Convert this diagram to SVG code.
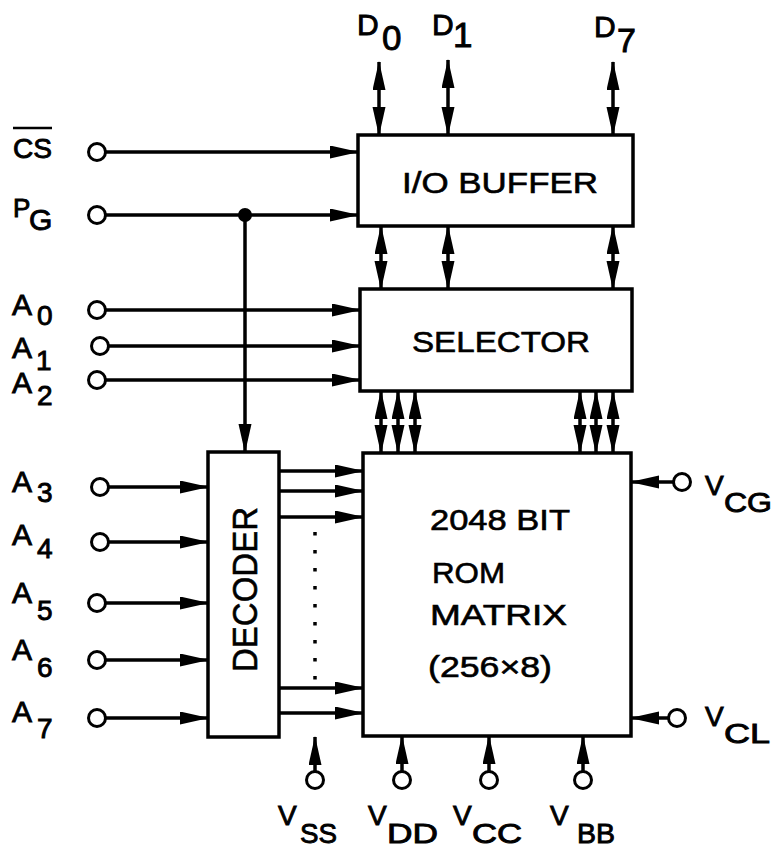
<svg xmlns="http://www.w3.org/2000/svg" width="773" height="848" viewBox="0 0 773 848">
<style>
.box{fill:#fff;stroke:#000;stroke-width:3.5}
.w{stroke:#000;stroke-width:3.5;fill:none}
.pin{fill:#fff;stroke:#000;stroke-width:3}
.t{font-family:"Liberation Sans",Arial,sans-serif;fill:#000;stroke:#000;stroke-width:0.6}
.lab text{font-family:"Liberation Sans",Arial,sans-serif;fill:#000;stroke:#000;stroke-width:0.9}
.lb{font-size:28px}
.bx{font-size:29px}
</style>
<defs>
<marker id="ah" markerUnits="userSpaceOnUse" markerWidth="30" markerHeight="14" refX="28" refY="6.5" orient="auto-start-reverse">
<path d="M0,0 L29,6.5 L0,13 z" fill="#000"/>
</marker>
</defs>
<g id="io-buffer">
<rect class="box" x="358" y="135" width="275" height="91"/>
<text class="t bx" x="402" y="193" textLength="196" lengthAdjust="spacingAndGlyphs">I/O BUFFER</text>
</g>
<g id="selector">
<rect class="box" x="360" y="289" width="272" height="102"/>
<text class="t bx" x="412" y="352" textLength="178" lengthAdjust="spacingAndGlyphs">SELECTOR</text>
</g>
<g id="rom-matrix">
<rect class="box" x="363" y="453" width="268" height="283"/>
<text class="t bx" x="430" y="530" textLength="140" lengthAdjust="spacingAndGlyphs">2048 BIT</text>
<text class="t bx" x="432" y="583" textLength="73" lengthAdjust="spacingAndGlyphs">ROM</text>
<text class="t bx" x="430" y="625" textLength="137" lengthAdjust="spacingAndGlyphs">MATRIX</text>
<text class="t bx" x="428" y="677" textLength="124" lengthAdjust="spacingAndGlyphs">(256×8)</text>
</g>
<g id="decoder">
<rect class="box" x="208" y="452" width="71" height="285"/>
<text class="t" font-size="35" transform="translate(257,672) rotate(-90)" textLength="165" lengthAdjust="spacingAndGlyphs">DECODER</text>
</g>
<g id="connectors">
<line class="w" x1="105" y1="152" x2="358" y2="152" marker-end="url(#ah)"/>
<line class="w" x1="105" y1="215" x2="358" y2="215" marker-end="url(#ah)"/>
<line class="w" x1="245" y1="215" x2="245" y2="452" marker-end="url(#ah)"/>
<circle cx="245" cy="215" r="7" fill="#000"/>
<line class="w" x1="105" y1="310" x2="360" y2="310" marker-end="url(#ah)"/>
<line class="w" x1="108" y1="346" x2="360" y2="346" marker-end="url(#ah)"/>
<line class="w" x1="105" y1="380" x2="360" y2="380" marker-end="url(#ah)"/>
<line class="w" x1="108" y1="487" x2="208" y2="487" marker-end="url(#ah)"/>
<line class="w" x1="108" y1="542" x2="208" y2="542" marker-end="url(#ah)"/>
<line class="w" x1="105" y1="603" x2="208" y2="603" marker-end="url(#ah)"/>
<line class="w" x1="105" y1="660" x2="208" y2="660" marker-end="url(#ah)"/>
<line class="w" x1="105" y1="718" x2="208" y2="718" marker-end="url(#ah)"/>
<line class="w" x1="279" y1="471" x2="363" y2="471" marker-end="url(#ah)"/>
<line class="w" x1="279" y1="491" x2="363" y2="491" marker-end="url(#ah)"/>
<line class="w" x1="279" y1="517" x2="363" y2="517" marker-end="url(#ah)"/>
<line class="w" x1="279" y1="688" x2="363" y2="688" marker-end="url(#ah)"/>
<line class="w" x1="279" y1="713" x2="363" y2="713" marker-end="url(#ah)"/>
<line stroke="#000" stroke-width="3.5" stroke-dasharray="3.5 14.5" x1="315" y1="532" x2="315" y2="680"/>
<line class="w" x1="315" y1="771" x2="315" y2="737" marker-end="url(#ah)"/>
<line class="w" x1="402" y1="771" x2="402" y2="736" marker-end="url(#ah)"/>
<line class="w" x1="489" y1="771" x2="489" y2="736" marker-end="url(#ah)"/>
<line class="w" x1="583" y1="771" x2="583" y2="736" marker-end="url(#ah)"/>
<line class="w" x1="673" y1="482" x2="631" y2="482" marker-end="url(#ah)"/>
<line class="w" x1="668" y1="718" x2="631" y2="718" marker-end="url(#ah)"/>
<line class="w" x1="379" y1="62" x2="379" y2="135" marker-start="url(#ah)" marker-end="url(#ah)"/>
<line class="w" x1="448" y1="60" x2="448" y2="135" marker-start="url(#ah)" marker-end="url(#ah)"/>
<line class="w" x1="613" y1="62" x2="613" y2="135" marker-start="url(#ah)" marker-end="url(#ah)"/>
<line class="w" x1="381" y1="226" x2="381" y2="289" marker-start="url(#ah)" marker-end="url(#ah)"/>
<line class="w" x1="448" y1="226" x2="448" y2="289" marker-start="url(#ah)" marker-end="url(#ah)"/>
<line class="w" x1="613" y1="226" x2="613" y2="289" marker-start="url(#ah)" marker-end="url(#ah)"/>
<line class="w" x1="381" y1="391" x2="381" y2="453" marker-start="url(#ah)" marker-end="url(#ah)"/>
<line class="w" x1="398" y1="391" x2="398" y2="453" marker-start="url(#ah)" marker-end="url(#ah)"/>
<line class="w" x1="415" y1="391" x2="415" y2="453" marker-start="url(#ah)" marker-end="url(#ah)"/>
<line class="w" x1="580" y1="391" x2="580" y2="453" marker-start="url(#ah)" marker-end="url(#ah)"/>
<line class="w" x1="596" y1="391" x2="596" y2="453" marker-start="url(#ah)" marker-end="url(#ah)"/>
<line class="w" x1="613" y1="391" x2="613" y2="453" marker-start="url(#ah)" marker-end="url(#ah)"/>
</g>
<g id="pins">
<circle class="pin" cx="97" cy="152" r="8.5"/>
<circle class="pin" cx="97" cy="215" r="8.5"/>
<circle class="pin" cx="97" cy="310" r="8.5"/>
<circle class="pin" cx="100" cy="346" r="8.5"/>
<circle class="pin" cx="97" cy="380" r="8.5"/>
<circle class="pin" cx="100" cy="487" r="8.5"/>
<circle class="pin" cx="100" cy="542" r="8.5"/>
<circle class="pin" cx="97" cy="603" r="8.5"/>
<circle class="pin" cx="97" cy="660" r="8.5"/>
<circle class="pin" cx="97" cy="718" r="8.5"/>
<circle class="pin" cx="315" cy="780" r="8.5"/>
<circle class="pin" cx="402" cy="780" r="8.5"/>
<circle class="pin" cx="489" cy="780" r="8.5"/>
<circle class="pin" cx="583" cy="780" r="8.5"/>
<circle class="pin" cx="682" cy="482" r="8.5"/>
<circle class="pin" cx="677" cy="718" r="8.5"/>
</g>
<g id="labels" class="lab">
<text font-size="30" x="357" y="35">D</text>
<text font-size="35" x="382" y="50">0</text>
<text font-size="30" x="432" y="35">D</text>
<text font-size="35" x="453" y="47">1</text>
<text font-size="30" x="594" y="37">D</text>
<text font-size="34" x="617" y="52">7</text>
<text class="lb" x="13" y="158" textLength="39" lengthAdjust="spacingAndGlyphs">CS</text>
<line x1="13" y1="128" x2="52" y2="128" stroke="#000" stroke-width="2.5"/>
<text font-size="26" x="13" y="217">P</text>
<text font-size="30" x="29" y="230">G</text>
<text font-size="30" x="12" y="315">A</text>
<text class="lb" x="37" y="325">0</text>
<text font-size="30" x="12" y="358">A</text>
<text class="lb" x="36" y="370">1</text>
<text font-size="30" x="12" y="393">A</text>
<text class="lb" x="37" y="405">2</text>
<text font-size="30" x="12" y="492">A</text>
<text class="lb" x="37" y="502">3</text>
<text font-size="30" x="12" y="545">A</text>
<text class="lb" x="37" y="558">4</text>
<text font-size="30" x="12" y="603">A</text>
<text class="lb" x="37" y="620">5</text>
<text font-size="30" x="12" y="660">A</text>
<text class="lb" x="37" y="677">6</text>
<text font-size="30" x="12" y="722">A</text>
<text class="lb" x="37" y="738">7</text>
<text class="lb" x="705" y="495">V</text>
<text class="lb" x="724" y="512" textLength="48" lengthAdjust="spacingAndGlyphs">CG</text>
<text class="lb" x="705" y="726">V</text>
<text class="lb" x="724" y="743" textLength="46" lengthAdjust="spacingAndGlyphs">CL</text>
<text class="lb" x="278" y="825">V</text>
<text class="lb" x="300" y="843" textLength="37" lengthAdjust="spacingAndGlyphs">SS</text>
<text class="lb" x="368" y="825">V</text>
<text class="lb" x="387" y="843" textLength="51" lengthAdjust="spacingAndGlyphs">DD</text>
<text class="lb" x="453" y="825">V</text>
<text class="lb" x="472" y="843" textLength="50" lengthAdjust="spacingAndGlyphs">CC</text>
<text class="lb" x="550" y="825">V</text>
<text class="lb" x="577" y="843" textLength="38" lengthAdjust="spacingAndGlyphs">BB</text>
</g>
</svg>
